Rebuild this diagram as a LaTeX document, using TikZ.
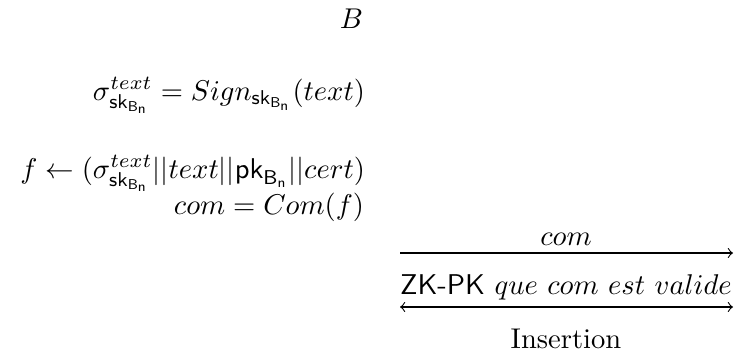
\documentclass[tikz,border=0pt]{standalone}
\usepackage{amsmath}
\newcommand{\skB}{\mathsf{sk}_{\mathsf{B}_{\mathsf{n}}}}
\newcommand{\pkB}{\mathsf{pk}_{\mathsf{B}_{\mathsf{n}}}}
\begin{document}
\begin{tikzpicture}[x=0.35pt,y=-0.35pt,
  txt/.style={inner sep=0pt,outer sep=0pt},
  msg/.style={line width=0.4pt}]
\useasboundingbox (0,0) rectangle (738,356);
\node[txt,anchor=base east] (B) at (363,28) {$B$};
\node[txt,anchor=base east] (l1) at (365,100) {$\sigma^{text}_{\skB} = Sign_{\skB}(text)$};
\node[txt,anchor=base east] (l2) at (365,178) {$f \leftarrow (\sigma^{text}_{\skB}||text||\pkB||cert)$};
\node[txt,anchor=base east] (l3) at (364,214) {$com = Com(f)$};
\coordinate (a1s) at (400,253);
\coordinate (a1e) at (733,253);
\draw[msg,->] (a1s) -- (a1e);
\node[txt,anchor=base] (m1) at (566,245) {$com$};
\node[txt,anchor=base] (zk) at (566,294) {\textsf{ZK-PK} $que\ com\ est\ valide$};
\coordinate (a2s) at (400,307);
\coordinate (a2e) at (733,307);
\draw[msg,<->] (a2s) -- (a2e);
\node[txt,anchor=base] (ins) at (566,348) {Insertion};
\end{tikzpicture}
\end{document}
